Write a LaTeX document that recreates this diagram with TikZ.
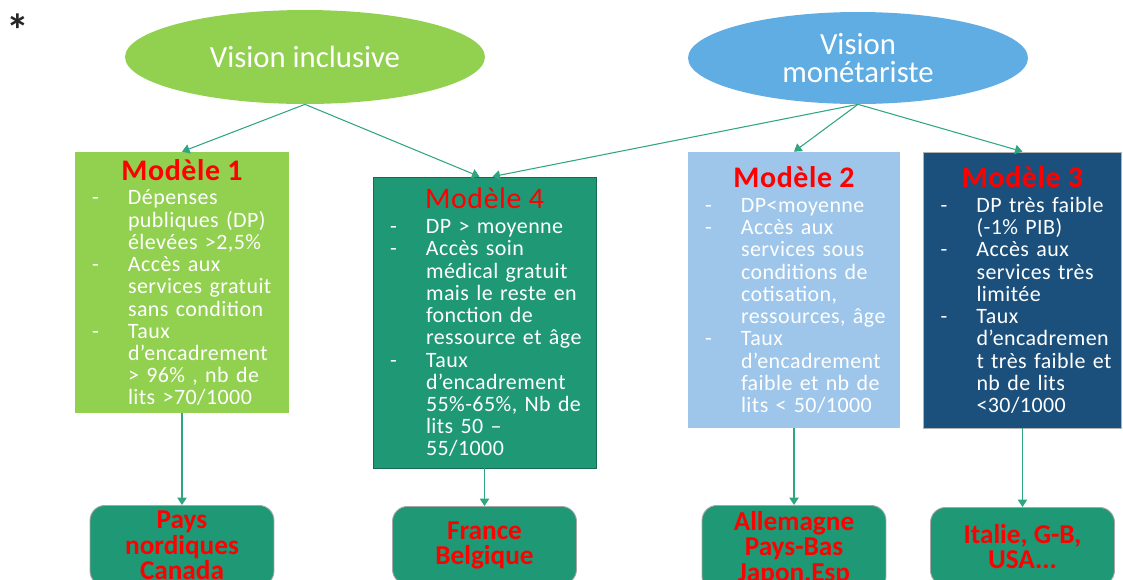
\documentclass[tikz,border=0pt]{standalone}
\usepackage{fontspec}
\setmainfont{Carlito}
\usetikzlibrary{arrows.meta, shapes.geometric}
\definecolor{inclusivegreen}{RGB}{146,208,80}
\definecolor{monetaryblue}{RGB}{95,173,226}
\definecolor{modeltwoblue}{RGB}{157,198,234}
\definecolor{modelthreeblue}{RGB}{28,80,124}
\definecolor{tealgreen}{RGB}{30,152,117}
\definecolor{arrowteal}{RGB}{48,165,130}
\definecolor{titlered}{RGB}{255,0,0}
\newcommand{\tiret}[1]{\makebox[0.72cm][l]{-}\mbox{#1}}
\newcommand{\suite}[1]{\hspace*{0.72cm}\mbox{#1}}
\newcommand{\modtitre}[2][\bfseries]{\makebox[\hsize]{\fontsize{17}{18}\selectfont#1\color{titlered}#2}}
\lineskiplimit=-10pt

\begin{document}
\begin{tikzpicture}[
    x=0.02cm, y=-0.02cm,
    vision/.style={ellipse, draw=none, text=white, align=center, inner sep=0pt,
        font=\fontsize{17.5}{16.4}\selectfont},
    modbox/.style={rectangle, draw=none, text=white, align=left, inner xsep=0.34cm, inner ysep=0pt,
        font=\fontsize{12.5}{12.65}\selectfont\addfontfeatures{LetterSpace=2}},
    paysbox/.style={rectangle, rounded corners=0.3cm, fill=tealgreen, draw=black!35, line width=0.5pt,
        text=titlered, align=center, anchor=north, minimum width=3.68cm, minimum height=1.56cm,
        font=\bfseries\fontsize{15.5}{14.5}\selectfont},
    arrow/.style={-{Triangle[length=1.5mm,width=1.9mm]}, draw=arrowteal, line width=0.6pt}
]
    \useasboundingbox (0,0) rectangle (1123,579);
    \clip (0,0) rectangle (1123,579);

    % Asterisk
    \node[text=black!85, font=\bfseries\fontsize{26}{26}\selectfont] (asterisque) at (18,30) {*};

    % Visions
    \node[vision, fill=inclusivegreen, minimum width=7.2cm, minimum height=1.88cm] (visinc) at (305,57) {Vision inclusive};
    \node[vision, fill=monetaryblue, minimum width=6.8cm, minimum height=1.84cm] (vismon) at (858,58) {Vision\\monétariste};

    % Models
    \node[modbox, fill=inclusivegreen, minimum width=4.28cm, minimum height=5.22cm, text width=3.6cm] (mod1) at (182,282.5) {%
        \modtitre{Modèle 1}\\[1.5pt]
        \tiret{Dépenses}\\
        \suite{publiques (DP)}\\
        \suite{élevées >2,5\%}\\
        \tiret{Accès aux}\\
        \suite{services gratuit}\\
        \suite{sans condition}\\
        \tiret{Taux}\\
        \suite{d’encadrement}\\
        \suite{> 96\% , nb de}\\
        \suite{lits >70/1000}};
    \node[modbox, fill=tealgreen, draw=tealgreen!70!black, line width=0.5pt, minimum width=4.46cm, minimum height=5.82cm, text width=3.78cm] (mod4) at (484.5,322.5) {%
        \modtitre[\mdseries]{Modèle 4}\\[1.5pt]
        \tiret{DP > moyenne}\\
        \tiret{Accès soin}\\
        \suite{médical gratuit}\\
        \suite{mais le reste en}\\
        \suite{fonction de}\\
        \suite{ressource et âge}\\
        \tiret{Taux}\\
        \suite{d’encadrement}\\
        \suite{55\%-65\%, Nb de}\\
        \suite{lits 50 –}\\
        \suite{55/1000}};
    \node[modbox, fill=modeltwoblue, minimum width=4.24cm, minimum height=5.52cm, text width=3.56cm] (mod2) at (794,290) {%
        \modtitre{Modèle 2}\\[1.5pt]
        \tiret{DP<moyenne}\\
        \tiret{Accès aux}\\
        \suite{services sous}\\
        \suite{conditions de}\\
        \suite{cotisation,}\\
        \suite{ressources, âge}\\
        \tiret{Taux}\\
        \suite{d’encadrement}\\
        \suite{faible et nb de}\\
        \suite{lits < 50/1000}};
    \node[modbox, fill=modelthreeblue, draw=gray!60, line width=0.5pt, minimum width=3.96cm, minimum height=5.52cm, text width=3.28cm] (mod3) at (1022.5,290) {%
        \modtitre{Modèle 3}\\[1.5pt]
        \tiret{DP très faible}\\
        \suite{(-1\% PIB)}\\
        \tiret{Accès aux}\\
        \suite{services très}\\
        \suite{limitée}\\
        \tiret{Taux}\\
        \suite{d’encadremen}\\
        \suite{t très faible et}\\
        \suite{nb de lits}\\
        \suite{<30/1000}};

    % Countries
    \node[paysbox] (pays1) at (182,505) {Pays\\nordiques\\Canada};
    \node[paysbox] (pays4) at (484.5,506) {France\\Belgique};
    \node[paysbox] (pays2) at (794,505) {Allemagne\\Pays-Bas\\Japon,Esp};
    \node[paysbox] (pays3) at (1022.5,507) {Italie, G-B,\\USA...};

    % Arrows
    \draw[arrow] (visinc.south) -- (mod1.north);
    \draw[arrow] (visinc.south) -- ([xshift=-0.1cm]mod4.north);
    \draw[arrow] (vismon.south) -- ([xshift=0.16cm]mod4.north);
    \draw[arrow] (vismon.south) -- (mod2.north);
    \draw[arrow] (vismon.south) -- (mod3.north);
    \draw[arrow] (mod1.south) -- (pays1.north);
    \draw[arrow] (mod4.south) -- (pays4.north);
    \draw[arrow] (mod2.south) -- (pays2.north);
    \draw[arrow] (mod3.south) -- (pays3.north);
\end{tikzpicture}
\end{document}
